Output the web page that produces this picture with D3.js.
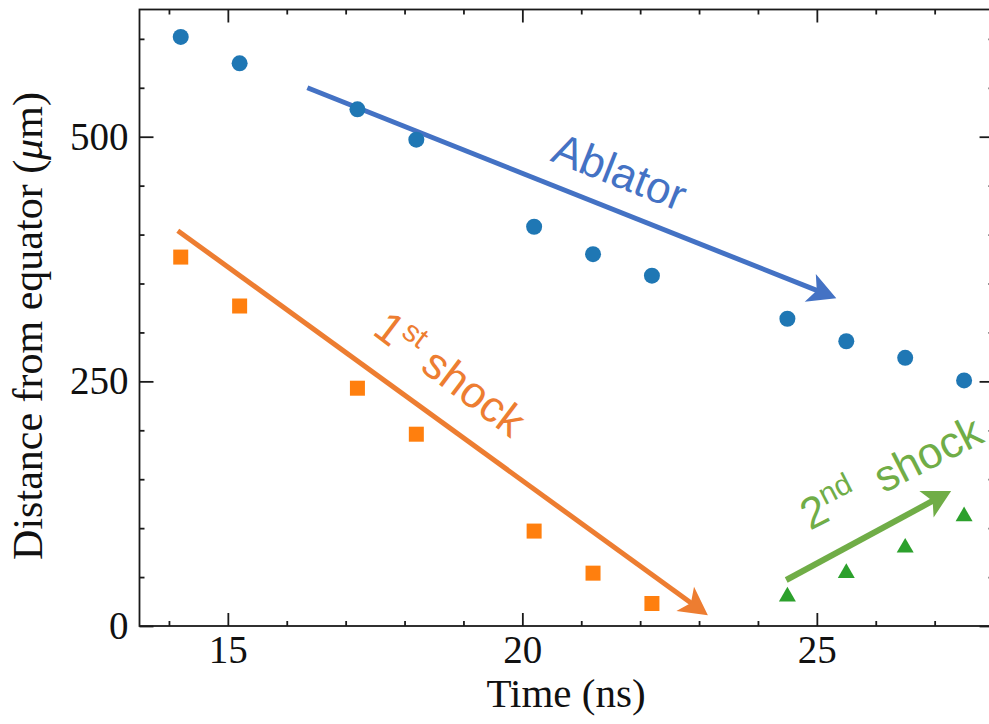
<!DOCTYPE html>
<html><head><meta charset="utf-8">
<script src="https://cdn.jsdelivr.net/npm/d3@7"></script>
<style>body{margin:0;background:#fff}svg{display:block}</style>
</head><body>
<script>
// ---- data ----
const ablatorTime = [14.2, 15.2, 17.2, 18.2, 20.2, 21.2, 22.2, 24.5, 25.5, 26.5, 27.5];
const ablatorDist = [602, 575, 528, 497, 408, 380, 358, 314, 291, 274, 251];
const shock1Time = [14.2, 15.2, 17.2, 18.2, 20.2, 21.2, 22.2];
const shock1Dist = [377, 327, 243, 196, 97, 54, 23];
const shock2Time = [24.5, 25.5, 26.5, 27.5];
const shock2Dist = [30, 54, 80, 112];
const xMajorTicks = [15, 20, 25];
const yMajorTicks = [0, 250, 500];
const xLabel = "Time (ns)";
const yLabelMain = "Distance from equator (";
// annotation arrows (data coordinates): [x0, y0, x1, y1]
const arrowAblator = [16.35, 550, 25.33, 335];
const arrowShock1 = [14.15, 404, 23.15, 11];
const arrowShock2 = [24.48, 47, 27.28, 138];

(function () {
const W = 989, H = 724;
const svg = d3.select("body").append("svg").attr("width", W).attr("height", H)
  .style("overflow", "hidden");

const pLeft = 139.5, pTop = 9.5, pBottom = 626;
const x = d3.scaleLinear().domain([13.5, 28]).range([pLeft, pLeft + 14.5 * 58.9]);
const y = d3.scaleLinear().domain([0, 630]).range([pBottom, pTop]);
const pRight = x(28);

const axisColor = "#1a1a1a";
const serif = "'Liberation Serif','Times New Roman',serif";
const sans = "'Liberation Sans',Arial,sans-serif";

const xMinor = d3.range(14, 28.01, 1).filter(v => !xMajorTicks.includes(v));
const yMinor = d3.range(0, 630, 50).filter(v => !yMajorTicks.includes(v));

function styleAxis(g) {
  g.select(".domain").remove();
  g.selectAll(".tick line").attr("stroke", axisColor).attr("stroke-width", 1.8);
}
// bottom
const gB = svg.append("g").attr("transform", `translate(0,${pBottom})`);
gB.call(d3.axisBottom(x).tickValues(xMajorTicks).tickSizeInner(-13).tickSizeOuter(0).tickPadding(9)).call(styleAxis);
gB.selectAll(".tick text").attr("font-family", serif).attr("font-size", 39).attr("fill", "#111");
gB.append("g").call(d3.axisBottom(x).tickValues(xMinor).tickSizeInner(-5).tickSizeOuter(0).tickFormat("")).call(styleAxis);
// top
const gT = svg.append("g").attr("transform", `translate(0,${pTop})`);
gT.call(d3.axisTop(x).tickValues(xMajorTicks).tickSizeInner(-13).tickSizeOuter(0).tickFormat("")).call(styleAxis);
gT.append("g").call(d3.axisTop(x).tickValues(xMinor).tickSizeInner(-5).tickSizeOuter(0).tickFormat("")).call(styleAxis);
// left
const gL = svg.append("g").attr("transform", `translate(${pLeft},0)`);
gL.call(d3.axisLeft(y).tickValues(yMajorTicks).tickSizeInner(-14).tickSizeOuter(0).tickPadding(11)).call(styleAxis);
gL.selectAll(".tick text").attr("font-family", serif).attr("font-size", 39).attr("fill", "#111");
gL.append("g").call(d3.axisLeft(y).tickValues(yMinor).tickSizeInner(-5).tickSizeOuter(0).tickFormat("")).call(styleAxis);
// right
const gR = svg.append("g").attr("transform", `translate(${pRight},0)`);
gR.call(d3.axisRight(y).tickValues(yMajorTicks).tickSizeInner(-14).tickSizeOuter(0).tickFormat("")).call(styleAxis);
gR.append("g").call(d3.axisRight(y).tickValues(yMinor).tickSizeInner(-5).tickSizeOuter(0).tickFormat("")).call(styleAxis);

// frame
svg.append("rect").attr("x", pLeft).attr("y", pTop).attr("width", pRight - pLeft).attr("height", pBottom - pTop)
  .attr("fill", "none").attr("stroke", axisColor).attr("stroke-width", 1.8);

// axis labels
svg.append("text").attr("x", 566).attr("y", 707)
  .attr("text-anchor", "middle").attr("font-family", serif).attr("font-size", 41).attr("fill", "#111")
  .text(xLabel);
const yl = svg.append("text").attr("transform", `translate(42,326) rotate(-90)`)
  .attr("text-anchor", "middle").attr("font-family", serif).attr("font-size", 42).attr("fill", "#111");
yl.append("tspan").text(yLabelMain);
yl.append("tspan").attr("font-style", "italic").text("μ");
yl.append("tspan").text("m)");

// arrows
function arrow(a, color, w) {
  const x0 = x(a[0]), y0 = y(a[1]), x1 = x(a[2]), y1 = y(a[3]);
  const dx = x1 - x0, dy = y1 - y0, L = Math.hypot(dx, dy);
  const ux = dx / L, uy = dy / L, px = -uy, py = ux;
  const hl = 28, hw = 15, notch = 21;
  const nx = x1 - ux * notch, ny = y1 - uy * notch;
  svg.append("line").attr("x1", x0).attr("y1", y0).attr("x2", nx + ux * 2).attr("y2", ny + uy * 2)
    .attr("stroke", color).attr("stroke-width", w);
  const pts = [[x1, y1], [x1 - ux * hl + px * hw, y1 - uy * hl + py * hw], [nx, ny],
               [x1 - ux * hl - px * hw, y1 - uy * hl - py * hw]];
  svg.append("polygon").attr("points", pts.map(p => p.join(",")).join(" ")).attr("fill", color);
}
arrow(arrowAblator, "#4472C4", 5);
arrow(arrowShock1, "#ED7D31", 5);
arrow(arrowShock2, "#70AD47", 6);

// markers
svg.append("g").selectAll("circle").data(ablatorTime).join("circle")
  .attr("cx", d => x(d)).attr("cy", (d, i) => y(ablatorDist[i])).attr("r", 8).attr("fill", "#1f77b4");
svg.append("g").selectAll("rect").data(shock1Time).join("rect")
  .attr("x", d => x(d) - 7.5).attr("y", (d, i) => y(shock1Dist[i]) - 7.5)
  .attr("width", 15).attr("height", 15).attr("fill", "#ff7f0e");
const tri = d3.symbol().type(d3.symbolTriangle).size(125);
svg.append("g").selectAll("path").data(shock2Time).join("path")
  .attr("transform", (d, i) => `translate(${x(d)},${y(shock2Dist[i])})`).attr("d", tri).attr("fill", "#2ca02c");

// annotation text
function label(cx, cy, angle, color, parts) {
  const t = svg.append("text").attr("transform", `translate(${cx},${cy}) rotate(${angle})`)
    .attr("text-anchor", "middle").attr("font-family", sans).attr("font-size", 44).attr("fill", color)
    .style("white-space", "pre");
  parts.forEach(p => {
    const s = t.append("tspan").text(p.t);
    if (p.sup) s.attr("font-size", 30).attr("baseline-shift", "super");
  });
}
label(614, 186, 21.5, "#4472C4", [{t: "Ablator"}]);
label(441, 386, 37, "#ED7D31", [{t: "1"}, {t: "st", sup: true}, {t: " shock"}]);
label(898, 486, -27, "#70AD47", [{t: "2"}, {t: "nd", sup: true}, {t: "  shock"}]);
})();
</script>
</body></html>
